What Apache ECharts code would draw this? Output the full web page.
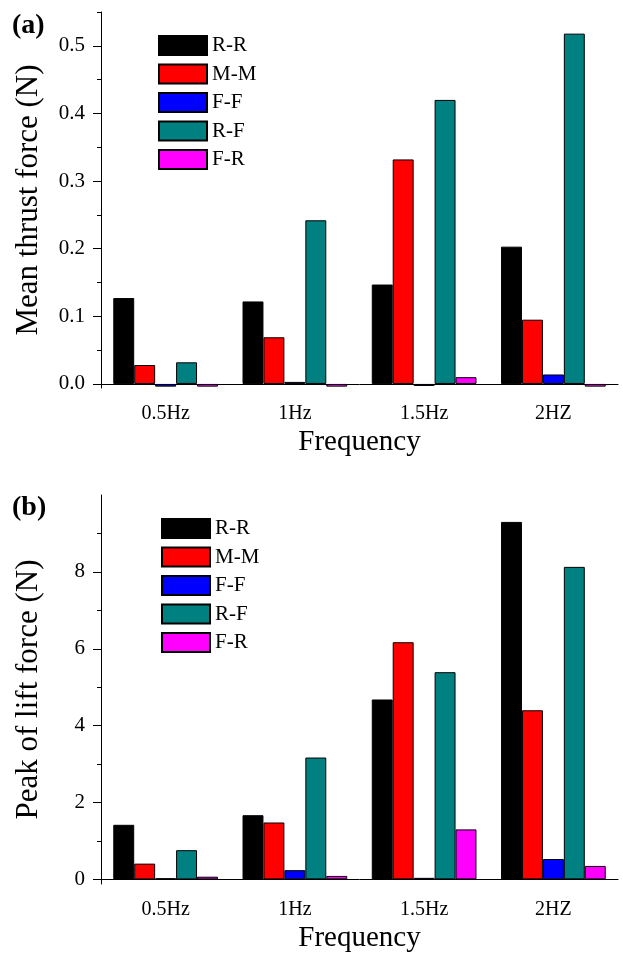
<!DOCTYPE html>
<html>
<head>
<meta charset="utf-8">
<script src="https://cdn.jsdelivr.net/npm/echarts@6/dist/echarts.min.js"></script>
<style>
  html, body { margin: 0; padding: 0; background: #fff; }
  #chart { width: 623px; height: 954px; }
</style>
</head>
<body>
<div id="chart"></div>
<script>
// Flapping frequency groups and the five fin configurations
const categories = ['0.5Hz', '1Hz', '1.5Hz', '2HZ'];
const seriesNames = ['R-R', 'M-M', 'F-F', 'R-F', 'F-R'];
const seriesColors = ['#000000', '#ff0000', '#0000ff', '#008080', '#ff00ff'];

// (a) Mean thrust force (N)
const rrThrust = [0.127, 0.122, 0.147, 0.203];
const mmThrust = [0.028, 0.069, 0.332, 0.095];
const ffThrust = [-0.004, 0.003, -0.003, 0.014];
const rfThrust = [0.032, 0.242, 0.420, 0.518];
const frThrust = [-0.004, -0.004, 0.010, -0.004];

// (b) Peak of lift force (N)
const rrLift = [1.42, 1.67, 4.68, 9.30];
const mmLift = [0.41, 1.48, 6.17, 4.40];
const ffLift = [0.03, 0.24, 0.04, 0.53];
const rfLift = [0.76, 3.17, 5.39, 8.13];
const frLift = [0.07, 0.09, 1.30, 0.35];

// Tick values
const thrustTicks = [0, 0.1, 0.2, 0.3, 0.4, 0.5];
const thrustMinorTicks = [0.05, 0.15, 0.25, 0.35, 0.45, 0.55];
const liftTicks = [0, 2, 4, 6, 8];
const liftMinorTicks = [1, 3, 5, 7, 9];

const FONT = '"Liberation Serif", "Times New Roman", serif';
const thrustData = [rrThrust, mmThrust, ffThrust, rfThrust, frThrust];
const liftData = [rrLift, mmLift, ffLift, rfLift, frLift];

function xAxesFor(gridIndex) {
  return [
    {
      type: 'category', gridIndex, position: 'bottom', data: categories,
      axisLine: { onZero: true, lineStyle: { color: '#000', width: 1 } },
      axisTick: { alignWithLabel: true, inside: false, length: 7, lineStyle: { color: '#000' } },
      axisLabel: { color: '#000', fontFamily: FONT, fontSize: 20, margin: 16 },
      name: 'Frequency', nameLocation: 'middle', nameGap: 40,
      nameTextStyle: { color: '#000', fontFamily: FONT, fontSize: 29 },
      splitLine: { show: false }
    },
    {
      type: 'category', gridIndex, position: 'bottom', data: categories,
      axisLine: { onZero: true, show: false },
      axisTick: { alignWithLabel: false, length: 4, lineStyle: { color: '#000' } },
      axisLabel: { show: false },
      splitLine: { show: false }
    }
  ];
}

function yAxesFor(gridIndex, min, max, ticks, minor, fmt, title) {
  return [
    {
      type: 'value', gridIndex, position: 'left', min, max,
      axisLine: { show: true, onZero: false, lineStyle: { color: '#000', width: 1 } },
      axisTick: { show: true, length: 8, customValues: ticks, lineStyle: { color: '#000' } },
      axisLabel: { color: '#000', fontFamily: FONT, fontSize: 21, margin: 16, customValues: ticks, formatter: fmt },
      splitLine: { show: false },
      name: title, nameLocation: 'middle', nameGap: 57, nameRotate: 90,
      nameTextStyle: { color: '#000', fontFamily: FONT, fontSize: 31 }
    },
    {
      type: 'value', gridIndex, position: 'left', min, max,
      axisLine: { show: false, onZero: false },
      axisTick: { show: true, length: 4, customValues: minor, lineStyle: { color: '#000' } },
      axisLabel: { show: false, customValues: minor },
      splitLine: { show: false }
    }
  ];
}

function barSeries(dataSets, xIdx, yIdx) {
  return dataSets.map((vals, i) => ({
    name: seriesNames[i], type: 'bar', xAxisIndex: xIdx, yAxisIndex: yIdx,
    data: vals, barGap: '0%', barCategoryGap: '19%',
    itemStyle: { color: seriesColors[i], borderColor: '#000', borderWidth: 1 },
    emphasis: { disabled: true }, animation: false
  }));
}

function legendAt(left, top) {
  return {
    orient: 'vertical', left, top, padding: 0, itemWidth: 48, itemHeight: 19, itemGap: 7.5,
    icon: 'rect', data: seriesNames, selectedMode: false,
    textStyle: { color: '#000', fontFamily: FONT, fontSize: 21, lineHeight: 19 }
  };
}

const chart = echarts.init(document.getElementById('chart'), null, { renderer: 'canvas' });
chart.setOption({
  backgroundColor: '#fff',
  animation: false,
  grid: [
    { left: 101, top: 12, width: 517, height: 376 },
    { left: 101, top: 495, width: 517, height: 390 }
  ],
  xAxis: [...xAxesFor(0), ...xAxesFor(1)],
  yAxis: [
    ...yAxesFor(0, -0.006, 0.55, thrustTicks, thrustMinorTicks, v => v.toFixed(1), 'Mean thrust force (N)'),
    ...yAxesFor(1, -0.12, 10, liftTicks, liftMinorTicks, v => String(v), 'Peak of lift force (N)')
  ],
  legend: [legendAt(158, 35), legendAt(161, 518)],
  series: [...barSeries(thrustData, 0, 0), ...barSeries(liftData, 2, 2)],
  graphic: [
    { type: 'text', left: 12, top: 12, style: { text: '(a)', font: 'bold 28px ' + FONT, fill: '#000' } },
    { type: 'text', left: 12, top: 494, style: { text: '(b)', font: 'bold 28px ' + FONT, fill: '#000' } }
  ]
});
</script>
</body>
</html>
